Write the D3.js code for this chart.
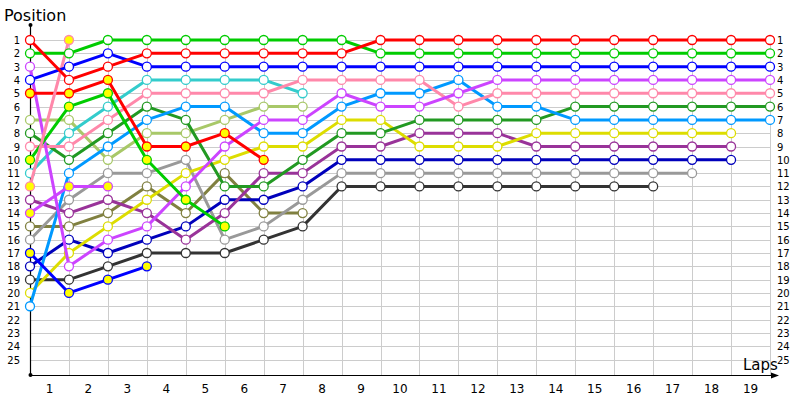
<!DOCTYPE html>
<html>
<head>
<meta charset="utf-8">
<script src="https://cdn.jsdelivr.net/npm/d3@7"></script>
<style>
  body { margin: 0; background: #fff; }
  text { font-family: "DejaVu Sans", sans-serif; fill: #000; }
</style>
</head>
<body>
<svg id="chart" width="800" height="400"></svg>
<script>
// laps 0..19, position per lap (null = not running)
const laps = d3.range(0, 20);
const lapLabels = d3.range(1, 20);
const positions = d3.range(1, 26);

const drivers = [
  { name: "lightgreen", color: "#a8c868", fill: "#fff", pos: [7, 7, 10, 8, 8, 7, 6, 6] },
  { name: "olive", color: "#808040", fill: "#fff", pos: [15, 15, 14, 12, 14, 11, 14, 14] },
  { name: "cyan", color: "#33cccc", fill: "#fff", pos: [11, 8, 6, 4, 4, 4, 4, 5] },
  { name: "gray", color: "#999999", fill: "#fff", pos: [16, 13, 11, 11, 10, 16, 15, 13, 11, 11, 11, 11, 11, 11, 11, 11, 11, 11] },
  { name: "darkgray", color: "#333333", fill: "#fff", pos: [19, 19, 18, 17, 17, 17, 16, 15, 12, 12, 12, 12, 12, 12, 12, 12, 12] },
  { name: "darkblue", color: "#0000bb", fill: "#fff", pos: [18, 16, 17, 16, 15, 13, 13, 12, 10, 10, 10, 10, 10, 10, 10, 10, 10, 10, 10] },
  { name: "purple", color: "#993399", fill: "#fff", pos: [13, 14, 13, 14, 16, 14, 11, 11, 9, 9, 8, 8, 8, 9, 9, 9, 9, 9, 9] },
  { name: "yellow", color: "#dddd00", fill: "#fff", pos: [20, 17, 15, 13, 11, 10, 9, 9, 7, 7, 9, 9, 9, 8, 8, 8, 8, 8, 8] },
  { name: "darkgreen", color: "#229922", fill: "#fff", pos: [8, 10, 8, 6, 7, 12, 12, 10, 8, 8, 7, 7, 7, 7, 6, 6, 6, 6, 6, 6] },
  { name: "lightblue", color: "#0099ff", fill: "#fff", pos: [21, 11, 9, 7, 6, 6, 8, 8, 6, 5, 5, 4, 6, 6, 7, 7, 7, 7, 7, 7] },
  { name: "pink", color: "#ff88aa", fill: "#fff", pos: [9, 9, 7, 5, 5, 5, 5, 4, 4, 4, 4, 6, 5, 5, 5, 5, 5, 5, 5, 5] },
  { name: "violet", color: "#cc44ff", fill: "#fff", pos: [3, 18, 16, 15, 12, 9, 7, 7, 5, 6, 6, 5, 4, 4, 4, 4, 4, 4, 4, 4] },
  { name: "blueY", color: "#0000ff", fill: "#ffff00", pos: [17, 20, 19, 18] },
  { name: "violetY", color: "#cc44ff", fill: "#ffff00", pos: [14, 12, 12] },
  { name: "greenY", color: "#00cc00", fill: "#ffff00", pos: [10, 6, 5, 10, 13, 15] },
  { name: "redY", color: "#ff0000", fill: "#ffff00", pos: [5, 5, 4, 9, 9, 8, 10] },
  { name: "pinkY", color: "#ff88aa", fill: "#ffff00", pos: [12, 1] },
  { name: "blue", color: "#0000ff", fill: "#fff", pos: [4, 3, 2, 3, 3, 3, 3, 3, 3, 3, 3, 3, 3, 3, 3, 3, 3, 3, 3, 3] },
  { name: "green", color: "#00cc00", fill: "#fff", pos: [2, 2, 1, 1, 1, 1, 1, 1, 1, 2, 2, 2, 2, 2, 2, 2, 2, 2, 2, 2] },
  { name: "red", color: "#ff0000", fill: "#fff", pos: [1, 4, 3, 2, 2, 2, 2, 2, 2, 1, 1, 1, 1, 1, 1, 1, 1, 1, 1, 1] }
];

const svg = d3.select("#chart");

const x = d3.scaleLinear().domain([0, 19]).range([30, 770]);
const y = d3.scaleLinear().domain([1, 25]).range([40, 359.5]);
const axisY = 375;

// grid
const grid = svg.append("g").attr("stroke", "#cccccc").attr("stroke-width", 1);
grid.selectAll("line.h").data(positions).enter().append("line")
  .attr("x1", x(0)).attr("x2", x(19))
  .attr("y1", d => Math.round(y(d)) + 0.5).attr("y2", d => Math.round(y(d)) + 0.5);
grid.selectAll("line.v").data(laps.slice(1)).enter().append("line")
  .attr("x1", d => Math.round(x(d)) + 0.5).attr("x2", d => Math.round(x(d)) + 0.5)
  .attr("y1", y(1)).attr("y2", axisY);

// axes
svg.append("line").attr("x1", 30.5).attr("x2", 30.5).attr("y1", 25).attr("y2", axisY)
  .attr("stroke", "#000").attr("stroke-width", 1.2);
svg.append("circle").attr("cx", 30.5).attr("cy", 25).attr("r", 2).attr("fill", "#000");
svg.append("circle").attr("cx", 30.5).attr("cy", axisY).attr("r", 2).attr("fill", "#000");
svg.append("line").attr("x1", 30).attr("x2", 775).attr("y1", axisY + 0.5).attr("y2", axisY + 0.5)
  .attr("stroke", "#000").attr("stroke-width", 1.2);
svg.append("path").attr("d", `M771,${axisY - 2.5} L779,${axisY + 0.5} L771,${axisY + 3.5} Z`).attr("fill", "#000");

// labels
svg.append("g").selectAll("text").data(positions).enter().append("text")
  .attr("x", 20).attr("y", d => y(d) + 4).attr("text-anchor", "end")
  .attr("font-size", 10).text(d => d);
svg.append("g").selectAll("text").data(positions).enter().append("text")
  .attr("x", 777).attr("y", d => y(d) + 4).attr("text-anchor", "start")
  .attr("font-size", 10).text(d => d);
svg.append("g").selectAll("text").data(lapLabels).enter().append("text")
  .attr("x", d => (x(d - 1) + x(d)) / 2).attr("y", 393).attr("text-anchor", "middle")
  .attr("font-size", 12).text(d => d);

svg.append("text").attr("x", 4).attr("y", 21).attr("font-size", 16).text("Position");
svg.append("text").attr("x", 743).attr("y", 370).attr("font-size", 15).text("Laps");

// series
const line = d3.line().x((d, i) => x(i)).y(d => y(d));
const series = svg.append("g").selectAll("g").data(drivers).enter().append("g");
series.append("path")
  .attr("d", d => line(d.pos))
  .attr("fill", "none").attr("stroke", d => d.color).attr("stroke-width", 3)
  .attr("stroke-linejoin", "round");
series.selectAll("circle").data(d => d.pos.map((p, i) => ({ p, i, d }))).enter().append("circle")
  .attr("cx", o => x(o.i)).attr("cy", o => y(o.p)).attr("r", 4.5)
  .attr("fill", o => o.d.fill).attr("stroke", o => o.d.color).attr("stroke-width", 1.3);
</script>
</body>
</html>
